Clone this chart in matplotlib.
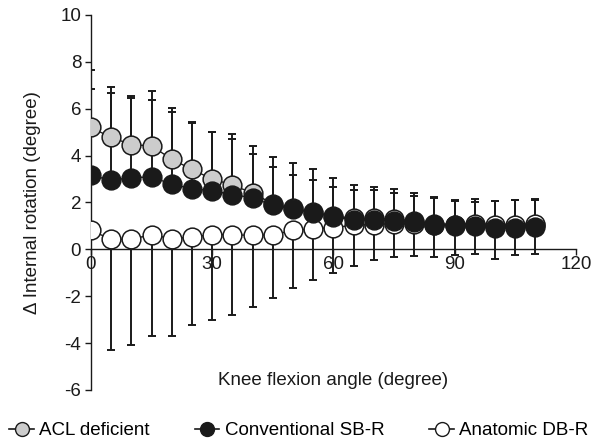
import matplotlib
matplotlib.use("Agg")
import matplotlib.pyplot as plt
import numpy as np

plt.rcParams["font.family"] = ["Liberation Sans", "DejaVu Sans"]
plt.rcParams["font.size"] = 13.5
plt.rcParams["axes.unicode_minus"] = False

# knee flexion angles (degree)
angle = [0, 5, 10, 15, 20, 25, 30, 35, 40, 45, 50, 55,
         60, 65, 70, 75, 80, 85, 90, 95, 100, 105, 110]

# mean delta internal rotation (degree)
acl_mean = [5.20, 4.78, 4.47, 4.41, 3.85, 3.41, 3.00, 2.75, 2.40, 1.95, 1.75, 1.60,
            1.42, 1.33, 1.32, 1.28, 1.22, 1.10, 1.05, 1.02, 0.98, 0.98, 1.02]
sbr_mean = [3.16, 2.95, 3.06, 3.09, 2.78, 2.59, 2.50, 2.34, 2.20, 1.88, 1.71, 1.57,
            1.38, 1.27, 1.26, 1.22, 1.15, 1.03, 1.00, 0.98, 0.92, 0.92, 0.95]
dbr_mean = [0.81, 0.43, 0.43, 0.63, 0.45, 0.53, 0.63, 0.62, 0.60, 0.62, 0.81, 0.88,
            0.93, 1.03, 1.06, 1.10, 1.08, 1.05, 1.05, 1.10, 1.05, 1.05, 1.10]

# error bar ends (mean + SD for ACL / SB-R, mean - SD for DB-R)
acl_upper = [7.65, 6.94, 6.54, 6.74, 6.05, 5.44, 5.01, 4.94, 4.41, 3.94, 3.69, 3.41,
             3.05, 2.76, 2.66, 2.56, 2.41, 2.24, 2.09, 2.17, 2.06, 2.12, 2.15]
sbr_upper = [6.84, 6.68, 6.44, 6.37, 5.87, 5.40, 5.00, 4.70, 4.09, 3.52, 3.16, 2.95,
             2.66, 2.55, 2.52, 2.42, 2.28, 2.19, 2.08, 2.02, 2.05, 2.10, 2.09]
dbr_lower = [0.81, -4.29, -4.06, -3.68, -3.68, -3.21, -3.03, -2.81, -2.47, -2.07, -1.66, -1.32,
             -1.01, -0.71, -0.47, -0.33, -0.30, -0.33, -0.26, -0.21, -0.40, -0.26, -0.18]

ink = "#1a1a1a"

fig = plt.figure(figsize=(5.98, 4.45), dpi=100)
ax = fig.add_axes([0.152, 0.1236, 0.811, 0.8427])

x = np.array(angle)
zero = np.zeros(len(x))
ekw = dict(fmt="none", ecolor=ink, elinewidth=1.4, capsize=2.6, capthick=1.4, zorder=2)
ax.errorbar(x, acl_mean, yerr=[zero, np.array(acl_upper) - np.array(acl_mean)], **ekw)
ax.errorbar(x, sbr_mean, yerr=[zero, np.array(sbr_upper) - np.array(sbr_mean)], **ekw)
ax.errorbar(x, dbr_mean, yerr=[np.array(dbr_mean) - np.array(dbr_lower), zero], **ekw)

mkw = dict(color=ink, lw=1.0, marker="o", ms=13.5, mec=ink, mew=1.1)
h1, = ax.plot(x, acl_mean, mfc="#cccccc", zorder=3, **mkw)
h3, = ax.plot(x, dbr_mean, mfc="white", zorder=4, **mkw)
h2, = ax.plot(x, sbr_mean, mfc=ink, zorder=5, **mkw)

ax.set_xlim(0, 120)
ax.set_ylim(-6, 10)
ax.set_xticks([0, 30, 60, 90, 120])
ax.set_yticks(range(-6, 11, 2))
ax.spines["top"].set_visible(False)
ax.spines["right"].set_visible(False)
ax.spines["bottom"].set_position(("data", 0))
ax.spines["left"].set_bounds(-6, 10)
for s in ("left", "bottom"):
    ax.spines[s].set_color(ink)
    ax.spines[s].set_linewidth(1.0)
ax.tick_params(axis="both", direction="out", length=4, width=1.0, color=ink,
               labelsize=13.5, labelcolor=ink)
ax.tick_params(axis="x", pad=1)
ax.tick_params(axis="y", pad=3)

ax.set_ylabel("\u0394 Internal rotation (degree)", fontsize=13.5, color=ink, labelpad=14)
ax.text(60, -5.6, "Knee flexion angle (degree)", ha="center", va="center",
        fontsize=13.5, color=ink)

leg_handles = []
for h in (h1, h2, h3):
    leg_handles.append(plt.Line2D([], [], color=ink, lw=1.2, marker="o", ms=10,
                                  mfc=h.get_markerfacecolor(), mec=ink, mew=1.0))
fig.legend(leg_handles, ["ACL deficient", "Conventional SB-R", "Anatomic DB-R"],
           loc="lower center", bbox_to_anchor=(0.5, -0.025), ncol=3, frameon=False,
           handlelength=1.3, handletextpad=0.3, columnspacing=2.4, fontsize=13.5)

fig.savefig("out.png", dpi=100)
